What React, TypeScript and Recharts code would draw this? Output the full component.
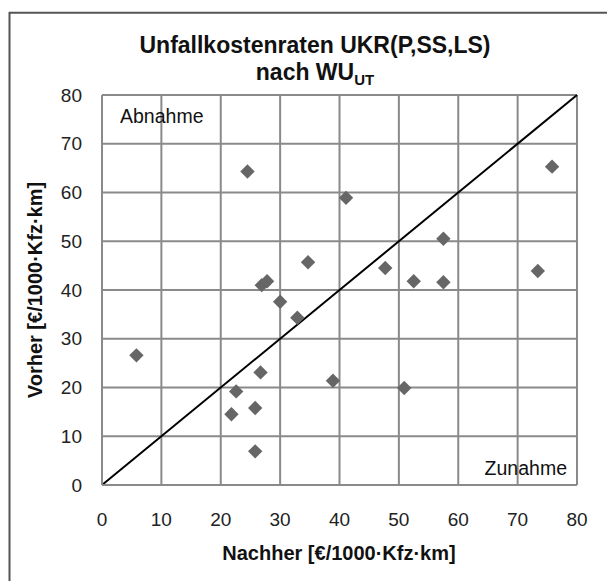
import React from 'react';
import { ScatterChart, Scatter, XAxis, YAxis, CartesianGrid, ReferenceLine } from 'recharts';

const nachher = [5.8, 21.8, 22.6, 25.8, 25.8, 26.7, 24.5, 26.9, 27.8, 30.0, 32.9, 34.7, 38.9, 41.1, 47.7, 50.9, 52.5, 57.5, 57.5, 73.4, 75.8];
const vorher = [26.6, 14.5, 19.2, 15.8, 6.9, 23.1, 64.3, 41.0, 41.8, 37.6, 34.3, 45.7, 21.4, 58.9, 44.5, 19.9, 41.8, 41.6, 50.5, 43.9, 65.3];
const ticks = [0, 10, 20, 30, 40, 50, 60, 70, 80];
const titleLine1 = 'Unfallkostenraten UKR(P,SS,LS)';
const titleLine2 = 'nach WU';
const titleSub = 'UT';
const xTitle = 'Nachher [€/1000·Kfz·km]';
const yTitle = 'Vorher [€/1000·Kfz·km]';
const labelTopLeft = 'Abnahme';
const labelBottomRight = 'Zunahme';

const data = nachher.map((x, i) => ({ x, y: vorher[i] }));

const FONT = '"Liberation Sans", Arial, sans-serif';

const Diamond = (props: any) => {
  const { cx, cy } = props;
  const r = 7.2;
  return (
    <polygon
      points={`${cx},${cy - r} ${cx + r},${cy} ${cx},${cy + r} ${cx - r},${cy}`}
      fill="#666666"
    />
  );
};

export default function App() {
  const tickStyle = { fontSize: 19, fill: '#222', fontFamily: FONT };
  return (
    <div style={{ position: 'absolute', left: 0, top: 0, width: 607, height: 581, background: '#fff', fontFamily: FONT }}>
      <ScatterChart width={607} height={581} margin={{ top: 95, right: 30, bottom: 0, left: 0 }}>
        <CartesianGrid stroke="#8a8a8a" strokeWidth={2} />
        <XAxis
          type="number"
          dataKey="x"
          domain={[0, 80]}
          ticks={ticks}
          height={96}
          tickLine={false}
          tickSize={6}
          tickMargin={21.5}
          axisLine={{ stroke: '#8a8a8a', strokeWidth: 2 }}
          tick={tickStyle}
          interval={0}
        />
        <YAxis
          type="number"
          dataKey="y"
          domain={[0, 80]}
          ticks={ticks}
          width={102}
          tickLine={false}
          tickSize={6}
          tickMargin={14}
          axisLine={{ stroke: '#8a8a8a', strokeWidth: 2 }}
          tick={tickStyle}
          interval={0}
        />
        <ReferenceLine x={80} stroke="#8a8a8a" strokeWidth={2} />
        <ReferenceLine y={80} stroke="#8a8a8a" strokeWidth={2} />
        <ReferenceLine segment={[{ x: 0, y: 0 }, { x: 80, y: 80 }]} stroke="#000" strokeWidth={2} />
        <Scatter data={data} shape={Diamond} isAnimationActive={false} />
      </ScatterChart>
      <svg width={607} height={581} style={{ position: 'absolute', left: 0, top: 0, pointerEvents: 'none' }}>
        <line x1={9} y1={12.7} x2={607} y2={12.7} stroke="#555" strokeWidth={2} />
        <line x1={9.5} y1={12} x2={9.5} y2={581} stroke="#555" strokeWidth={2} />
        <text x={315} y={53} textAnchor="middle" fontSize={23} fontWeight="bold" fill="#111" fontFamily={FONT}>
          {titleLine1}
        </text>
        <text x={315} y={80} textAnchor="middle" fontSize={23} fontWeight="bold" fill="#111" fontFamily={FONT}>
          {titleLine2}
          <tspan fontSize={15} dy={5}>{titleSub}</tspan>
        </text>
        <text x={339} y={560} textAnchor="middle" fontSize={20} fontWeight="bold" fill="#111" fontFamily={FONT}>
          {xTitle}
        </text>
        <text
          x={42}
          y={290}
          textAnchor="middle"
          fontSize={20}
          fontWeight="bold"
          fill="#111"
          fontFamily={FONT}
          transform="rotate(-90 42 290)"
        >
          {yTitle}
        </text>
        <text x={120} y={123} fontSize={19.5} fill="#111" fontFamily={FONT}>
          {labelTopLeft}
        </text>
        <text x={567} y={475} textAnchor="end" fontSize={19.5} fill="#111" fontFamily={FONT}>
          {labelBottomRight}
        </text>
      </svg>
    </div>
  );
}
